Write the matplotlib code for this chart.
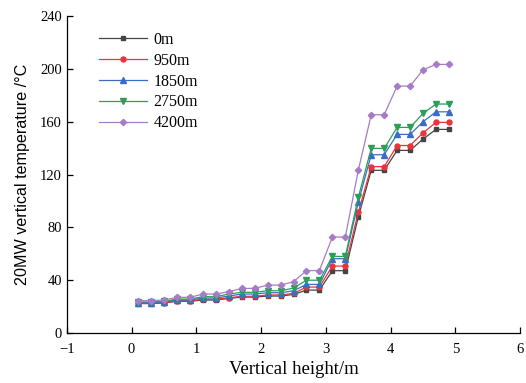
import matplotlib
matplotlib.use("Agg")
import matplotlib.pyplot as plt

x = [0.1, 0.3, 0.5, 0.7, 0.9, 1.1, 1.3, 1.5, 1.7, 1.9, 2.1, 2.3, 2.5,
     2.7, 2.9, 3.1, 3.3, 3.5, 3.7, 3.9, 4.1, 4.3, 4.5, 4.7, 4.9]

s_0m = [22.3, 22.3, 22.8, 24.0, 24.0, 25.0, 25.0, 26.2, 27.2, 27.2, 28.0, 28.0, 29.2,
        32.5, 32.5, 47.2, 47.2, 87.8, 123.2, 123.2, 138.3, 138.3, 146.9, 154.2, 154.2]
s_950m = [22.5, 22.5, 23.0, 24.3, 24.3, 25.5, 25.5, 26.7, 27.8, 27.8, 28.8, 28.8, 30.0,
          34.8, 34.8, 50.7, 50.7, 91.4, 126.0, 126.0, 142.0, 142.0, 151.6, 159.5, 159.5]
s_1850m = [23.0, 23.0, 23.5, 25.0, 25.0, 26.5, 26.5, 28.0, 29.5, 29.5, 30.5, 30.5, 32.0,
           36.8, 36.8, 56.3, 56.3, 99.2, 135.0, 135.0, 150.4, 150.4, 160.0, 167.5, 167.5]
s_2750m = [23.5, 23.5, 24.0, 25.7, 25.7, 27.5, 27.5, 29.5, 30.8, 30.8, 32.0, 32.0, 34.0,
           40.0, 40.0, 58.0, 58.0, 102.7, 139.8, 139.8, 155.7, 155.7, 166.3, 173.4, 173.4]
s_4200m = [24.5, 24.5, 25.0, 27.0, 27.0, 29.5, 29.5, 31.3, 33.8, 33.8, 36.3, 36.3, 38.8,
           47.3, 47.3, 72.7, 72.7, 123.2, 165.3, 165.3, 187.0, 187.0, 199.3, 203.4, 203.4]

labels = ["0m", "950m", "1850m", "2750m", "4200m"]
series = [s_0m, s_950m, s_1850m, s_2750m, s_4200m]
colors = ["#444444", "#e8353b", "#3a6ec6", "#2b9e58", "#a67cc6"]
markers = ["s", "o", "^", "v", "D"]
msizes = [3.2, 3.6, 3.8, 3.8, 3.2]

plt.rcParams['font.family'] = ['Liberation Serif', 'DejaVu Serif']
fig = plt.figure(figsize=(5.26, 3.83), dpi=100)
ax = fig.add_axes([0.127, 0.1305, 0.862, 0.8275])

for y, lab, c, m, ms in zip(series, labels, colors, markers, msizes):
    ax.plot(x, y, color=c, marker=m, markersize=ms, linewidth=0.9, label=lab)

ax.set_xlim(-1, 6)
ax.set_ylim(0, 240)
ax.set_xticks(range(-1, 7))
ax.set_yticks(range(0, 241, 40))
ax.tick_params(direction='in', length=4.5, width=0.9, labelsize=10.5)
ax.tick_params(axis='x', pad=7)
for sp in ['top', 'right']:
    ax.spines[sp].set_visible(False)
for sp in ['left', 'bottom']:
    ax.spines[sp].set_linewidth(0.9)

ax.set_xlabel("Vertical height/m", fontsize=13.5, labelpad=4)
ax.set_ylabel("20MW vertical temperature /\u00b0C", fontsize=11.6,
              family=['Liberation Sans', 'DejaVu Sans'], labelpad=7)

ax.legend(loc='upper left', bbox_to_anchor=(0.05, 0.98), frameon=False,
          fontsize=11.5, handlelength=3.0, labelspacing=0.3, handletextpad=0.4,
          borderaxespad=0.2)

fig.savefig("out.png", dpi=100)
